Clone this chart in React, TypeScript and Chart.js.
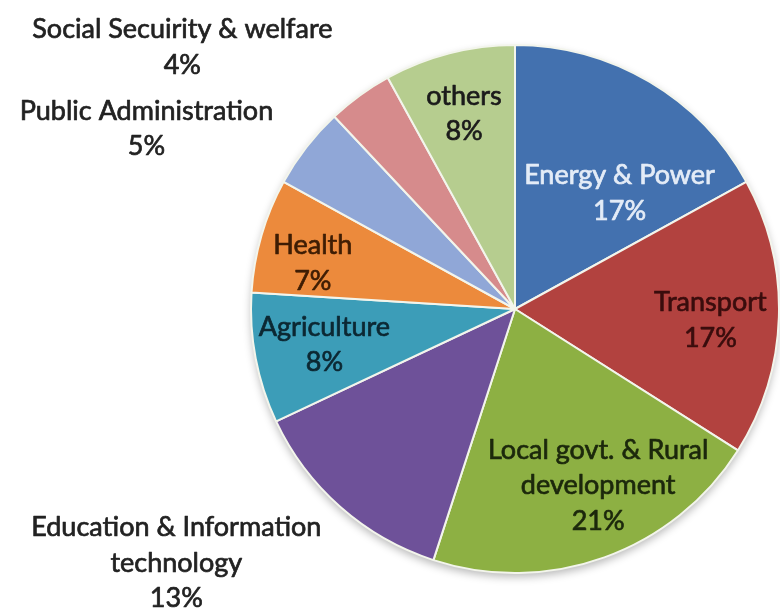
import React, { useEffect, useRef } from "react";
import { Chart, registerables } from "chart.js";

Chart.register(...registerables);

const categories: string[][] = [
  ["Energy & Power"],
  ["Transport"],
  ["Local govt. & Rural", "development"],
  ["Education & Information", "technology"],
  ["Agriculture"],
  ["Health"],
  ["Public Administration"],
  ["Social Secuirity & welfare"],
  ["others"],
];

const shares: number[] = [17, 17, 21, 13, 8, 7, 5, 4, 8];

const sliceColors: string[] = [
  "#4371AF",
  "#B2423F",
  "#8DB043",
  "#6E5199",
  "#3C9DB8",
  "#EC8A3C",
  "#90A7D7",
  "#D68B8C",
  "#B6CD8F",
];

const labelColors: string[] = [
  "#E4ECF7",
  "#3A0D0D",
  "#1C280C",
  "#222222",
  "#0C2833",
  "#3E1D04",
  "#222222",
  "#222222",
  "#1B1B1B",
];

// label block centres, relative to pie centre, in units of pie radius
const labelOffsets: [number, number][] = [
  [0.396, -0.438],
  [0.74, 0.042],
  [0.315, 0.668],
  [-1.283, 0.962],
  [-0.722, 0.136],
  [-0.766, -0.174],
  [-1.396, -0.683],
  [-1.26, -0.992],
  [-0.193, -0.74],
];

const FONT = '27px Lato, "Open Sans", "Liberation Sans", sans-serif';
const LINE_H = 35.5;

const shadowPlugin = {
  id: "pieShadow",
  beforeDatasetsDraw(chart: any) {
    const arc = chart.getDatasetMeta(0).data[0];
    if (!arc) return;
    const ctx = chart.ctx;
    ctx.save();
    ctx.shadowColor = "rgba(0,0,0,0.28)";
    ctx.shadowBlur = 9;
    ctx.shadowOffsetY = 4;
    ctx.beginPath();
    ctx.arc(arc.x, arc.y, arc.outerRadius, 0, Math.PI * 2);
    ctx.fillStyle = "#ffffff";
    ctx.fill();
    ctx.restore();
  },
};

const labelPlugin = {
  id: "sliceLabels",
  afterDatasetsDraw(chart: any) {
    const meta = chart.getDatasetMeta(0);
    const ctx = chart.ctx;
    const labels = chart.data.labels as string[][];
    const data = chart.data.datasets[0].data as number[];
    ctx.save();
    ctx.font = FONT;
    ctx.textAlign = "center";
    ctx.textBaseline = "middle";
    ctx.lineWidth = 0.7;
    ctx.lineJoin = "round";
    meta.data.forEach((arc: any, i: number) => {
      const r = arc.outerRadius;
      const cx = arc.x + labelOffsets[i][0] * r;
      const cy = arc.y + labelOffsets[i][1] * r;
      const lines = [...labels[i], `${data[i]}%`];
      const top = cy - ((lines.length - 1) * LINE_H) / 2;
      ctx.fillStyle = labelColors[i];
      ctx.strokeStyle = labelColors[i];
      lines.forEach((t, j) => {
        ctx.fillText(t, cx, top + j * LINE_H);
        ctx.strokeText(t, cx, top + j * LINE_H);
      });
    });
    ctx.restore();
  },
};

export default function App() {
  const ref = useRef<HTMLCanvasElement | null>(null);
  useEffect(() => {
    if (!ref.current) return;
    const chart = new Chart(ref.current, {
      type: "pie",
      data: {
        labels: categories,
        datasets: [
          {
            data: shares,
            backgroundColor: sliceColors,
            borderColor: "#F3F5EC",
            borderWidth: 2,
          },
        ],
      },
      options: {
        animation: false,
        responsive: true,
        maintainAspectRatio: false,
        layout: { padding: { left: 250, right: 0, top: 44, bottom: 35 } },
        plugins: {
          legend: { display: false },
          tooltip: { enabled: false },
        },
      },
      plugins: [shadowPlugin, labelPlugin],
    });
    return () => chart.destroy();
  }, []);
  return (
    <div
      style={{
        position: "absolute",
        left: 0,
        top: 0,
        width: 780,
        height: 609,
        background: "#ffffff",
      }}
    >
      <canvas ref={ref} />
    </div>
  );
}
